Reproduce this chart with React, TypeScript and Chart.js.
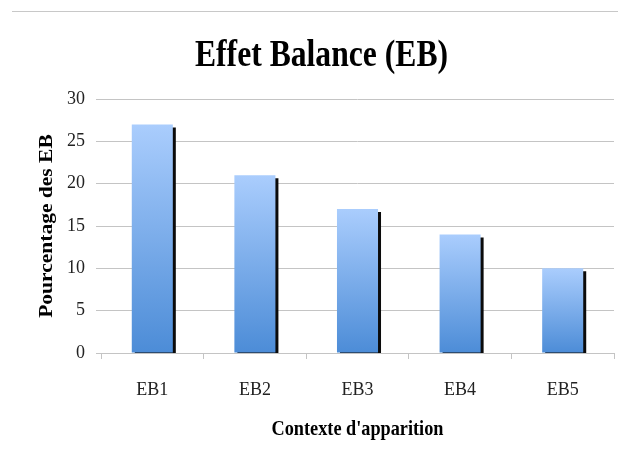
import React, { useEffect, useRef } from "react";
import { Chart, registerables } from "chart.js";

Chart.register(...registerables);

const categories: string[] = ["EB1", "EB2", "EB3", "EB4", "EB5"];
const values: number[] = [27, 21, 17, 14, 10];
const yTicks: number[] = [0, 5, 10, 15, 20, 25, 30];
const chartTitle = "Effet Balance (EB)";
const xTitle = "Contexte d'apparition";
const yTitle = "Pourcentage des EB";

const GRID = "#c4c4c4";
const SERIF = '"Liberation Serif", "Times New Roman", serif';

const shadowPlugin = {
  id: "barShadow",
  beforeDatasetsDraw(chart: any) {
    const c = chart.ctx;
    c.save();
    c.shadowColor = "#0b0b0b";
    c.shadowOffsetX = 3;
    c.shadowOffsetY = 3;
    c.shadowBlur = 0;
  },
  afterDatasetsDraw(chart: any) {
    chart.ctx.restore();
  },
};

const textPlugin = {
  id: "condensedTexts",
  beforeDraw(chart: any) {
    const c = chart.ctx;
    c.save();
    c.fillStyle = "#c8c8c8";
    c.fillRect(12, 11, chart.width - 12, 1);
    c.restore();
  },
  afterDraw(chart: any) {
    const c = chart.ctx;
    const area = chart.chartArea;
    c.save();
    c.fillStyle = "#000000";
    c.textAlign = "center";
    c.textBaseline = "alphabetic";
    // main title
    c.save();
    c.translate(321.5, 66);
    c.scale(0.855, 1);
    c.font = "bold 37px " + SERIF;
    c.fillText(chartTitle, 0, 0);
    c.restore();
    // x title
    c.save();
    c.translate((area.left + area.right) / 2, 435);
    c.scale(0.83, 1);
    c.font = "bold 22px " + SERIF;
    c.fillText(xTitle, 0, 0);
    c.restore();
    // y title
    c.save();
    c.translate(51.5, (area.top + area.bottom) / 2);
    c.rotate(-Math.PI / 2);
    c.scale(1, 0.87);
    c.font = "bold 21.5px " + SERIF;
    c.fillText(yTitle, 0, 0);
    c.restore();
    c.restore();
  },
};

export default function App() {
  const ref = useRef<HTMLCanvasElement | null>(null);

  useEffect(() => {
    if (!ref.current) return;
    const chart = new Chart(ref.current, {
      type: "bar",
      data: {
        labels: categories,
        datasets: [
          {
            data: values,
            clip: 0,
            categoryPercentage: 0.4,
            barPercentage: 1,
            borderWidth: 0,
            backgroundColor: (ctx: any) => {
              const ch = ctx.chart;
              const ys = ch.scales && ch.scales.y;
              if (!ys || ctx.type !== "data" || typeof ctx.raw !== "number") return "#78a8e8";
              const top = ys.getPixelForValue(ctx.raw);
              const bottom = ys.getPixelForValue(0);
              if (!isFinite(top) || !isFinite(bottom) || top === bottom) return "#78a8e8";
              const g = ch.ctx.createLinearGradient(0, top, 0, bottom);
              g.addColorStop(0, "#aacdfd");
              g.addColorStop(1, "#4c8cd7");
              return g;
            },
          } as any,
        ],
      },
      options: {
        responsive: false,
        animation: false,
        layout: { padding: { top: 99, right: 4, bottom: 0, left: 0 } },
        plugins: {
          legend: { display: false },
          title: { display: false },
          tooltip: { enabled: false },
        },
        scales: {
          x: {
            afterFit: (s: any) => {
              s.height = 104;
            },
            grid: {
              offset: true,
              drawOnChartArea: false,
              drawTicks: true,
              tickLength: 6,
              color: GRID,
            },
            border: { display: true, color: GRID },
            ticks: {
              padding: 20,
              color: "#222222",
              font: { family: SERIF, size: 18 },
            },
          },
          y: {
            min: 0,
            max: 30,
            afterFit: (s: any) => {
              s.width = 101;
            },
            afterBuildTicks: (s: any) => {
              s.ticks = yTicks.map((v) => ({ value: v }));
            },
            grid: {
              color: GRID,
              drawTicks: true,
              tickLength: 5,
            },
            border: { display: false },
            ticks: {
              padding: 11,
              color: "#222222",
              font: { family: SERIF, size: 18 },
            },
          },
        },
      },
      plugins: [shadowPlugin, textPlugin],
    });
    return () => chart.destroy();
  }, []);

  return (
    <div style={{ position: "absolute", left: 0, top: 0, width: 618, height: 457, background: "#ffffff" }}>
      <canvas ref={ref} width={618} height={457} style={{ display: "block" }} />
    </div>
  );
}
